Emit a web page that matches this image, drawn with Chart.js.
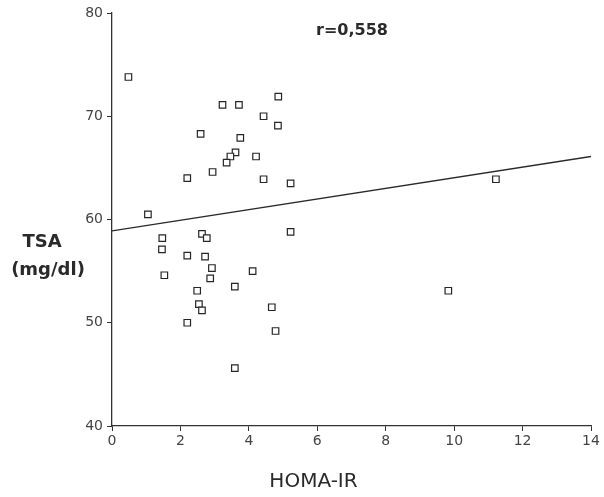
<!DOCTYPE html>
<html>
<head>
<meta charset="utf-8">
<script src="https://cdn.jsdelivr.net/npm/chart.js@4"></script>
<style>
  html, body { margin: 0; padding: 0; background: #ffffff; }
  #wrap { width: 604px; height: 497px; position: relative; }
  canvas { display: block; }
</style>
</head>
<body>
<div id="wrap"><canvas id="c" width="604" height="497"></canvas></div>
<script>
// HOMA-IR (x) values of each subject
const homaIR = [0.48, 3.23, 3.71, 4.86, 4.43, 4.85, 2.59, 3.75, 3.61, 3.46, 3.35, 4.21, 2.94, 2.20, 4.43, 5.22, 1.05,
                1.47, 1.46, 2.63, 2.77, 2.20, 2.72, 2.92, 2.87, 1.53, 4.11, 3.59, 2.49, 2.54, 2.63, 2.20, 4.67, 4.78, 3.59, 5.22,
                11.22, 9.83];
// TSA (mg/dl) (y) values of each subject
const tsa = [73.8, 71.1, 71.1, 71.9, 70.0, 69.1, 68.3, 67.9, 66.5, 66.1, 65.5, 66.1, 64.6, 64.0, 63.9, 63.5, 60.5,
             58.2, 57.1, 58.6, 58.2, 56.5, 56.4, 55.3, 54.3, 54.6, 55.0, 53.5, 53.1, 51.8, 51.2, 50.0, 51.5, 49.2, 45.6, 58.8,
             63.9, 53.1];
// Regression line end points
const fitX = [0, 14];
const fitY = [58.9, 66.1];
// Axis ticks
const xTicks = [0, 2, 4, 6, 8, 10, 12, 14];
const yTicks = [40, 50, 60, 70, 80];
// Texts
const xTitle = 'HOMA-IR';
const yTitleLines = ['TSA', '(mg/dl)'];
const corrLabel = 'r=0,558';

const scatterData = homaIR.map((x, i) => ({ x: x, y: tsa[i] }));
const fitData = fitX.map((x, i) => ({ x: x, y: fitY[i] }));

const textPlugin = {
  id: 'texts',
  afterDraw(chart) {
    const ctx = chart.ctx;
    const area = chart.chartArea;
    ctx.save();
    ctx.fillStyle = '#2a2a2a';
    ctx.textAlign = 'center';
    ctx.textBaseline = 'middle';
    // y title (horizontal, two lines)
    ctx.font = 'bold 18px "DejaVu Sans"';
    ctx.fillText(yTitleLines[0], 42, 242);
    ctx.fillText(yTitleLines[1], 48, 270);
    // x title
    ctx.font = '20px "DejaVu Sans"';
    ctx.fillText(xTitle, (area.left + area.right) / 2 - 38, 482);
    // correlation label
    ctx.font = 'bold 16px "DejaVu Sans"';
    ctx.fillText(corrLabel, 352, 31);
    ctx.restore();
  }
};

new Chart(document.getElementById('c'), {
  type: 'scatter',
  data: {
    datasets: [
      {
        type: 'scatter',
        data: scatterData,
        pointStyle: 'rect',
        pointRadius: 4.6,
        pointHoverRadius: 4.6,
        pointBorderWidth: 1.2,
        pointBorderColor: '#262626',
        pointBackgroundColor: '#ffffff'
      },
      {
        type: 'line',
        data: fitData,
        borderColor: '#2a2a2a',
        borderWidth: 1.4,
        pointRadius: 0,
        fill: false,
        tension: 0
      }
    ]
  },
  options: {
    responsive: false,
    animation: false,
    events: [],
    layout: { padding: { top: 13, right: 13, bottom: 0, left: 0 } },
    plugins: { legend: { display: false }, tooltip: { enabled: false } },
    scales: {
      x: {
        type: 'linear',
        min: 0, max: 14,
        afterBuildTicks: (s) => { s.ticks = xTicks.map(v => ({ value: v })); },
        afterFit: (s) => { s.height = 71; },
        grid: { display: true, drawOnChartArea: false, drawTicks: true, tickLength: 5, color: '#333', lineWidth: 1 },
        border: { display: true, color: '#333', width: 1.3 },
        ticks: { color: '#444', font: { family: 'DejaVu Sans', size: 14 }, padding: 2, maxRotation: 0 }
      },
      y: {
        type: 'linear',
        min: 40, max: 80,
        afterBuildTicks: (s) => { s.ticks = yTicks.map(v => ({ value: v })); },
        afterFit: (s) => { s.width = 112; },
        grid: { display: true, drawOnChartArea: false, drawTicks: true, tickLength: 5, color: '#333', lineWidth: 1 },
        border: { display: true, color: '#333', width: 1.3 },
        ticks: { color: '#444', font: { family: 'DejaVu Sans', size: 14 }, padding: 4 }
      }
    }
  },
  plugins: [textPlugin]
});
</script>
</body>
</html>
